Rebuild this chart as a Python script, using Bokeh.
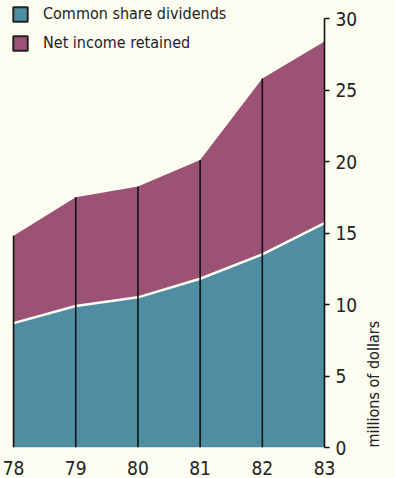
import math
from bokeh.plotting import figure
from bokeh.models import (Range1d, FixedTicker, Legend, LegendItem, LinearAxis,
                          ColumnDataSource, CDSView, IndexFilter)
from bokeh.embed import file_html
from bokeh.resources import INLINE

# Earnings split, millions of dollars
years = [78, 79, 80, 81, 82, 83]
year_labels = ["78", "79", "80", "81", "82", "83"]
dividends = [8.7, 9.9, 10.5, 11.8, 13.5, 15.7]
retained = [6.1, 7.6, 7.75, 8.3, 12.3, 12.7]
y_ticks = [0, 5, 10, 15, 20, 25, 30]

totals = [d + r for d, r in zip(dividends, retained)]

BG = "#fdfcf0"
TEAL = "#4f8ea2"
PLUM = "#9b5275"
INK = "#222222"
FONT = "DejaVu Sans Condensed"

p = figure(width=395, height=478, output_backend="svg", toolbar_location=None,
           x_range=Range1d(77.79, 83.0), y_range=Range1d(0, 31.26),
           min_border_left=0, min_border_right=70, min_border_top=0, min_border_bottom=31,
           x_axis_location="below", y_axis_location="right")
p.background_fill_color = BG
p.border_fill_color = BG
p.outline_line_color = None
p.grid.visible = False

src = ColumnDataSource(dict(year=years, zero=[0] * len(years), div=dividends, tot=totals))

# stacked areas
p.varea(x="year", y1="zero", y2="div", source=src, fill_color=TEAL)
p.varea(x="year", y1="div", y2="tot", source=src, fill_color=PLUM)
# white seam between the two layers
p.line(x="year", y="div", source=src, line_color="#fffdf3", line_width=2.5)
# year rules (the last one coincides with the value axis)
rules = CDSView(filter=IndexFilter(list(range(len(years) - 1))))
p.segment(x0="year", y0="zero", x1="year", y1="tot", source=src, view=rules,
          line_color="#111111", line_width=1.6)

# outlined swatches, hidden in the plot and shown only in the legend
sw_div = p.quad(left="year", right="year", bottom="zero", top="div", source=src,
                fill_color=TEAL, line_color=INK, line_width=2, visible=False)
sw_ret = p.quad(left="year", right="year", bottom="div", top="tot", source=src,
                fill_color=PLUM, line_color=INK, line_width=2, visible=False)
legend = Legend(items=[LegendItem(label="Common share dividends", renderers=[sw_div]),
                       LegendItem(label="Net income retained", renderers=[sw_ret])],
                location=(11, 395), background_fill_alpha=0, border_line_color=None,
                label_text_font=FONT, label_text_font_size="16px", label_text_color=INK,
                glyph_width=18, glyph_height=18, spacing=10, margin=0, padding=6,
                label_standoff=14)
p.add_layout(legend)

# y axis on the right
ya = p.yaxis[0]
ya.ticker = FixedTicker(ticks=y_ticks)
ya.bounds = (0, 30)
ya.axis_line_color = "#111111"
ya.axis_line_width = 1.6
ya.major_tick_in = 0
ya.major_tick_out = 5
ya.major_tick_line_width = 1.6
ya.major_tick_line_color = "#111111"
ya.minor_tick_line_color = None
ya.major_label_standoff = 6
ya.major_label_text_font = FONT
ya.major_label_text_font_size = "19px"
ya.major_label_text_color = INK

# unit caption, set low beside the value axis
cap = LinearAxis(axis_label="millions of dollars", bounds=(0, 7.8),
                 ticker=FixedTicker(ticks=[]), axis_line_color=None,
                 major_tick_in=0, major_tick_out=0, major_label_standoff=0,
                 major_tick_line_color=None, minor_tick_line_color=None,
                 major_label_text_font_size="0px", axis_label_orientation=math.pi / 2,
                 axis_label_standoff=13, axis_label_text_font=FONT,
                 axis_label_text_font_size="16px", axis_label_text_font_style="normal",
                 axis_label_text_line_height=1.0, axis_label_text_color=INK)
if "axis_label_align" in LinearAxis.properties():
    cap.axis_label_align = "start"
p.add_layout(cap, "right")

# x axis labels only
xa = p.xaxis[0]
xa.ticker = FixedTicker(ticks=years)
xa.major_label_overrides = {y: s for y, s in zip(years, year_labels)}
xa.axis_line_color = None
xa.major_tick_line_color = None
xa.minor_tick_line_color = None
xa.major_label_standoff = 7
xa.major_label_text_font = FONT
xa.major_label_text_font_size = "19px"
xa.major_label_text_color = INK

open("out.html", "w").write(file_html(p, INLINE))
